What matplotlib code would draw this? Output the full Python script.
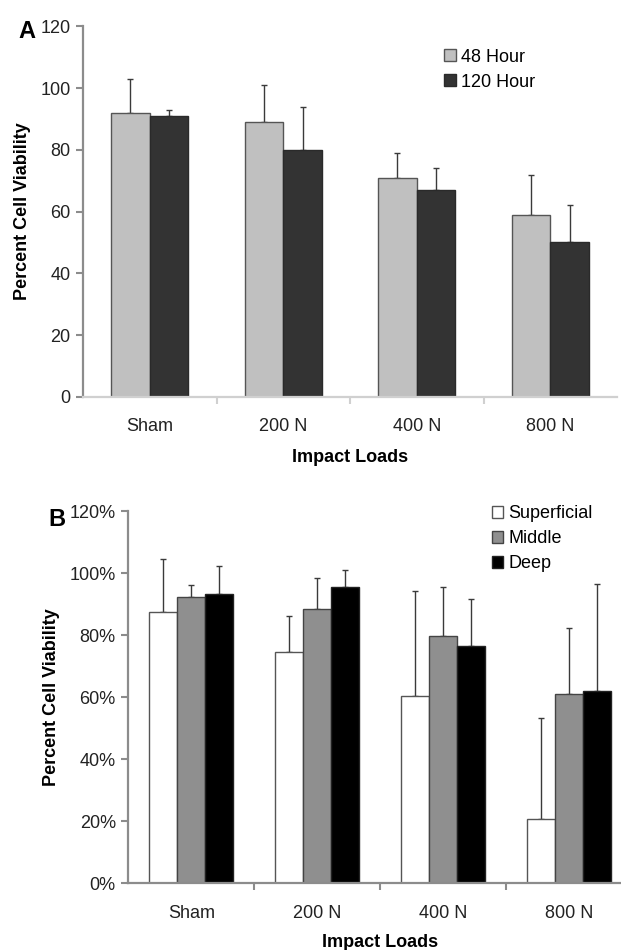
import numpy as np
import matplotlib
matplotlib.use('Agg')
import matplotlib.pyplot as plt
from matplotlib.ticker import FuncFormatter

plt.rcParams['font.family'] = ['Liberation Sans', 'DejaVu Sans']

# Panel A data
loads = ['Sham', '200 N', '400 N', '800 N']
hour48 = [92, 89, 71, 59]
hour48_err = [11, 12, 8, 13]
hour120 = [91, 80, 67, 50]
hour120_err = [2, 14, 7, 12]

# Panel B data
superficial = [87.5, 74.5, 60.3, 20.8]
superficial_err = [17.2, 11.7, 34.0, 32.6]
middle = [92.2, 88.6, 79.9, 61.0]
middle_err = [4.0, 10.0, 15.6, 21.4]
deep = [93.4, 95.6, 76.6, 62.0]
deep_err = [9.0, 5.6, 15.0, 34.6]

fig = plt.figure(figsize=(6.21, 9.5), dpi=100)

axis_gray = '#8c8c8c'
fs = 13
err_kw = dict(ecolor='#3a3a3a', elinewidth=1.0, capsize=2.5, capthick=1.0)
leg_kw = dict(frameon=False, fontsize=fs, handlelength=0.65, handleheight=0.65,
              handletextpad=0.3, borderpad=0, labelspacing=0.45, borderaxespad=0)


def style_axes(ax, xcolor):
    ax.spines['top'].set_visible(False)
    ax.spines['right'].set_visible(False)
    ax.spines['left'].set_color(axis_gray)
    ax.spines['left'].set_linewidth(1.6)
    ax.spines['bottom'].set_color(xcolor)
    ax.spines['bottom'].set_linewidth(1.6)
    ax.tick_params(axis='y', colors=axis_gray, labelcolor='#222222', length=5, width=1.5,
                   labelsize=fs, pad=4)
    # category separators as x ticks
    ax.set_xticks(np.arange(0.5, len(loads) - 0.5, 1.0), minor=True)
    ax.tick_params(axis='x', which='minor', length=5, width=1.5, colors=xcolor)
    ax.tick_params(axis='x', which='major', length=0, labelsize=fs, labelcolor='#222222', pad=15.5)
    ax.set_xticks(np.arange(len(loads)))
    ax.set_xticklabels(loads)
    ax.set_xlim(-0.5, len(loads) - 0.5)


# ---- Panel A ----
axA = fig.add_axes([83 / 621, 1 - 396.7 / 950, 534 / 621, 370.2 / 950])
x = np.arange(len(loads))
w = 0.29
axA.bar(x - w / 2, hour48, w, color='#c0c0c0', edgecolor='#555555', linewidth=1.0,
        label='48 Hour', zorder=2)
axA.errorbar(x - w / 2, hour48, yerr=[np.zeros(4), hour48_err], fmt='none', zorder=1, **err_kw)
axA.bar(x + w / 2, hour120, w, color='#333333', edgecolor='#2a2a2a', linewidth=1.0,
        label='120 Hour', zorder=2)
axA.errorbar(x + w / 2, hour120, yerr=[np.zeros(4), hour120_err], fmt='none', zorder=1, **err_kw)
axA.set_ylim(0, 120)
axA.set_yticks(range(0, 121, 20))
style_axes(axA, '#d0d0d0')
axA.set_ylabel('Percent Cell Viability', fontsize=fs, fontweight='bold', labelpad=7)
axA.set_xlabel('Impact Loads', fontsize=fs, fontweight='bold', labelpad=10)
axA.legend(loc='upper left', bbox_to_anchor=(444 / 621, 1 - 48.5 / 950),
           bbox_transform=fig.transFigure, **leg_kw)
fig.text(18 / 621, 1 - 32 / 950, 'A', fontsize=17, fontweight='bold', va='center', ha='left')

# ---- Panel B ----
axB = fig.add_axes([128.3 / 621, 1 - 883.3 / 950, 504 / 621, 372 / 950])
wb = 0.222
axB.bar(x - wb, superficial, wb, color='white', edgecolor='#555555', linewidth=1.0,
        label='Superficial', zorder=2)
axB.errorbar(x - wb, superficial, yerr=[np.zeros(4), superficial_err], fmt='none', zorder=1, **err_kw)
axB.bar(x, middle, wb, color='#8f8f8f', edgecolor='#444444', linewidth=1.0,
        label='Middle', zorder=2)
axB.errorbar(x, middle, yerr=[np.zeros(4), middle_err], fmt='none', zorder=1, **err_kw)
axB.bar(x + wb, deep, wb, color='black', edgecolor='#222222', linewidth=1.0,
        label='Deep', zorder=2)
axB.errorbar(x + wb, deep, yerr=[np.zeros(4), deep_err], fmt='none', zorder=1, **err_kw)
axB.set_ylim(0, 120)
axB.set_yticks(range(0, 121, 20))
axB.yaxis.set_major_formatter(FuncFormatter(lambda v, p: f'{v:.0f}%'))
style_axes(axB, axis_gray)
axB.set_ylabel('Percent Cell Viability', fontsize=fs, fontweight='bold', labelpad=7)
axB.set_xlabel('Impact Loads', fontsize=fs, fontweight='bold', labelpad=8.5)
axB.legend(loc='upper left', bbox_to_anchor=(491.5 / 621, 1 - 505 / 950),
           bbox_transform=fig.transFigure, **leg_kw)
fig.text(48 / 621, 1 - 520 / 950, 'B', fontsize=17, fontweight='bold', va='center', ha='left')

fig.savefig('out.png', dpi=100)
